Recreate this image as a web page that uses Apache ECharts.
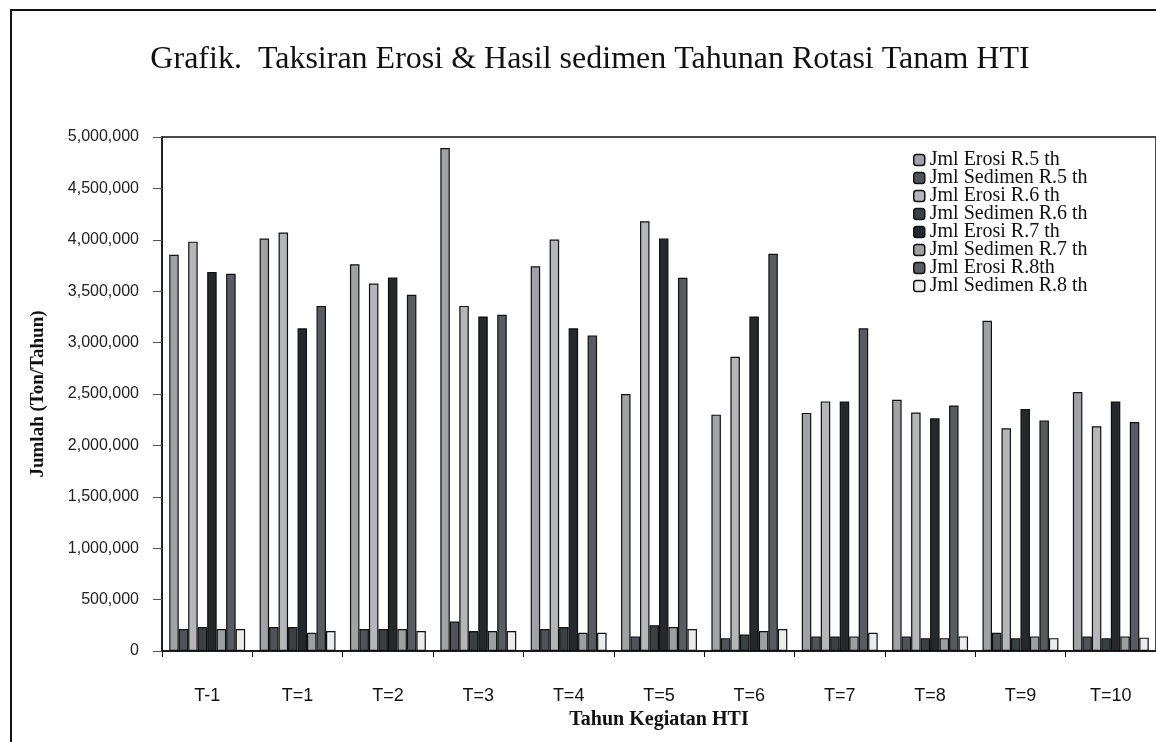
<!DOCTYPE html>
<html>
<head>
<meta charset="utf-8">
<script src="https://cdn.jsdelivr.net/npm/echarts@6/dist/echarts.min.js"></script>
<style>
html,body{margin:0;padding:0;background:#fff;}
#chart{width:1156px;height:742px;}
</style>
</head>
<body>
<div id="chart"></div>
<script>
const categories = ['T-1','T=1','T=2','T=3','T=4','T=5','T=6','T=7','T=8','T=9','T=10'];
const seriesNames = ['Jml Erosi R.5 th','Jml Sedimen R.5 th','Jml Erosi R.6 th','Jml Sedimen R.6 th','Jml Erosi R.7 th','Jml Sedimen R.7 th','Jml Erosi R.8th','Jml Sedimen R.8 th'];
const erosiR5   = [3854000,4012000,3762000,4892000,3742000,2500000,2299000,2316000,2444000,3212000,2520000];
const sedimenR5 = [214000,234000,214000,287000,214000,142000,125000,142000,142000,178000,142000];
const erosiR6   = [3982000,4071000,3574000,3357000,4002000,4180000,2862000,2428000,2319000,2167000,2187000];
const sedimenR6 = [234000,234000,214000,194000,234000,250000,161000,142000,125000,125000,125000];
const erosiR7   = [3686000,3139000,3633000,3254000,3139000,4012000,3254000,2428000,2263000,2355000,2428000];
const sedimenR7 = [214000,178000,214000,194000,178000,234000,194000,142000,125000,142000,142000];
const erosiR8   = [3669000,3357000,3465000,3270000,3070000,3630000,3864000,3139000,2388000,2243000,2227000];
const sedimenR8 = [214000,194000,194000,194000,178000,214000,214000,178000,142000,125000,130000];
const seriesData = [erosiR5,sedimenR5,erosiR6,sedimenR6,erosiR7,sedimenR7,erosiR8,sedimenR8];
const colors = ['#a0a2a6','#505458','#b5b6b9','#3b4043','#25292c','#9d9fa2','#585c60','#ececee'];

const chart = echarts.init(document.getElementById('chart'), null, {renderer:'canvas'});
chart.setOption({
  animation:false,
  backgroundColor:'#fff',
  title:{
    text:'Grafik.  Taksiran Erosi & Hasil sedimen Tahunan Rotasi Tanam HTI',
    left:585, top:39, textAlign:'center',
    textStyle:{fontFamily:'Liberation Serif', fontSize:32, fontWeight:'normal', color:'#111'}
  },
  graphic:[{
    type:'rect', shape:{x:11,y:10,width:1160,height:745},
    style:{fill:'none', stroke:'#111', lineWidth:2}, silent:true, z:-1
  }],
  legend:{
    orient:'vertical', left:913, top:150, padding:0, itemWidth:11, itemHeight:11, itemGap:-2,
    data:seriesNames,
    textStyle:{fontFamily:'Liberation Serif', fontSize:20, lineHeight:18, color:'#111'},
    itemStyle:{borderColor:'#111', borderWidth:1.5}
  },
  grid:{left:162, top:137, width:997, height:514, show:true, borderColor:'#111', borderWidth:1.5, backgroundColor:'transparent'},
  xAxis:{
    type:'category', data:categories,
    name:'Tahun Kegiatan HTI', nameLocation:'middle', nameGap:58,
    nameTextStyle:{fontFamily:'Liberation Serif', fontSize:20, fontWeight:'bold', color:'#111'},
    axisLine:{lineStyle:{color:'#111', width:1.5}},
    axisTick:{show:true, length:6, lineStyle:{color:'#111'}},
    axisLabel:{fontFamily:'Liberation Sans', fontSize:18, color:'#111', margin:36}
  },
  yAxis:{
    type:'value', min:0, max:5000000, interval:500000,
    name:'Jumlah (Ton/Tahun)', nameLocation:'middle', nameGap:114,
    nameTextStyle:{fontFamily:'Liberation Serif', fontSize:19, fontWeight:'bold', color:'#111'},
    axisLine:{show:true, lineStyle:{color:'#111', width:1.5}},
    axisTick:{show:true, length:9, lineStyle:{color:'#555'}},
    splitLine:{show:false},
    axisLabel:{fontFamily:'Liberation Sans', fontSize:16, color:'#222', margin:23,
      formatter:v=>v.toLocaleString('en-US')}
  },
  series:seriesNames.map((n,i)=>({
    name:n, type:'bar', data:seriesData[i],
    barGap:'0%', barCategoryGap:'16%',
    itemStyle:{color:colors[i], borderColor:'#111', borderWidth:1.2}
  }))
});
</script>
</body>
</html>
